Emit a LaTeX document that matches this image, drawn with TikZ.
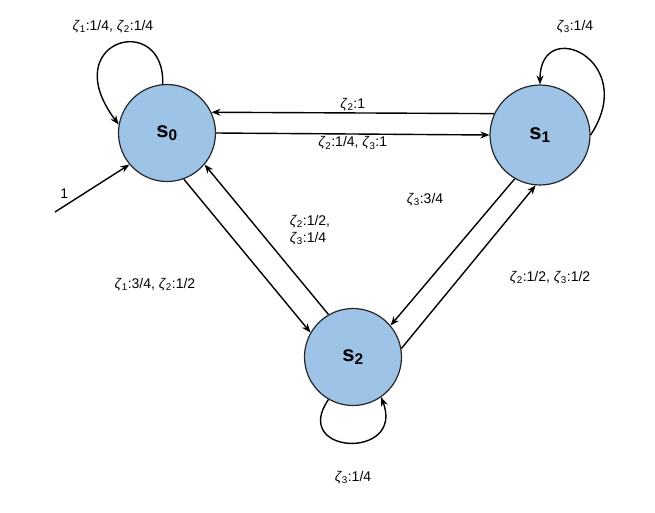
\documentclass[tikz,border=0pt]{standalone}
\usepackage{fontspec}
\setmainfont{Liberation Sans}
\usetikzlibrary{arrows.meta}
\newcommand{\zt}[1]{\textit{ζ}\textsubscript{#1}}
\begin{document}
\begin{tikzpicture}[x=1pt,y=-1pt,
  st/.style={circle,draw=black!85,line width=1.2pt,fill={rgb,255:red,157;green,195;blue,230},minimum size=97pt,inner sep=0pt,font=\fontsize{22}{24}\selectfont\bfseries},
  ar/.style={-{Stealth[length=9pt,width=7pt]},line width=1.4pt},
  lb/.style={font=\fontsize{14}{17}\selectfont,inner sep=1pt}]
\useasboundingbox (0,0) rectangle (655,512);
\node[st] (s0) at (167,133) {s\textsubscript{0}};
\node[st,minimum size=100pt] (s1) at (540,135) {s\textsubscript{1}};
\node[st] (s2) at (353,357) {s\textsubscript{2}};
\coordinate (i) at (55,212);
\draw[ar] (i) -- (s0.220) node[lb,pos=0.2,above left,yshift=2pt] {1};
\draw[ar] (s1.155) -- (s0.25) node[lb,midway,above] {\zt{2}:1};
\draw[ar] (s0.east) -- (s1.west) node[lb,midway,below,yshift=-1pt] {\zt{2}:1/4, \zt{3}:1};
\draw[ar] (s0.290) -- (s2.150);
\node[lb] at (155,285) {\zt{1}:3/4, \zt{2}:1/2};
\draw[ar] (s2.120) -- (s0.320);
\node[lb,align=left] at (310,230) {\zt{2}:1/2,\\\zt{3}:1/4};
\draw[ar] (s1.240) -- (s2.40);
\node[lb] at (425,200) {\zt{3}:3/4};
\draw[ar] (s2.10) -- (s1.265);
\node[lb] at (550,278) {\zt{2}:1/2, \zt{3}:1/2};
\draw[ar] (s0.95) .. controls (165,10) and (55,40) .. (s0.170);
\node[lb] at (113,27) {\zt{1}:1/4, \zt{2}:1/4};
\draw[ar] (s1.0) .. controls (640,60) and (540,15) .. (s1.90);
\node[lb] at (575,27) {\zt{3}:1/4};
\draw[ar] (s2.240) .. controls (290,455) and (405,460) .. (s2.305);
\node[lb] at (353,478) {\zt{3}:1/4};
\end{tikzpicture}
\end{document}
